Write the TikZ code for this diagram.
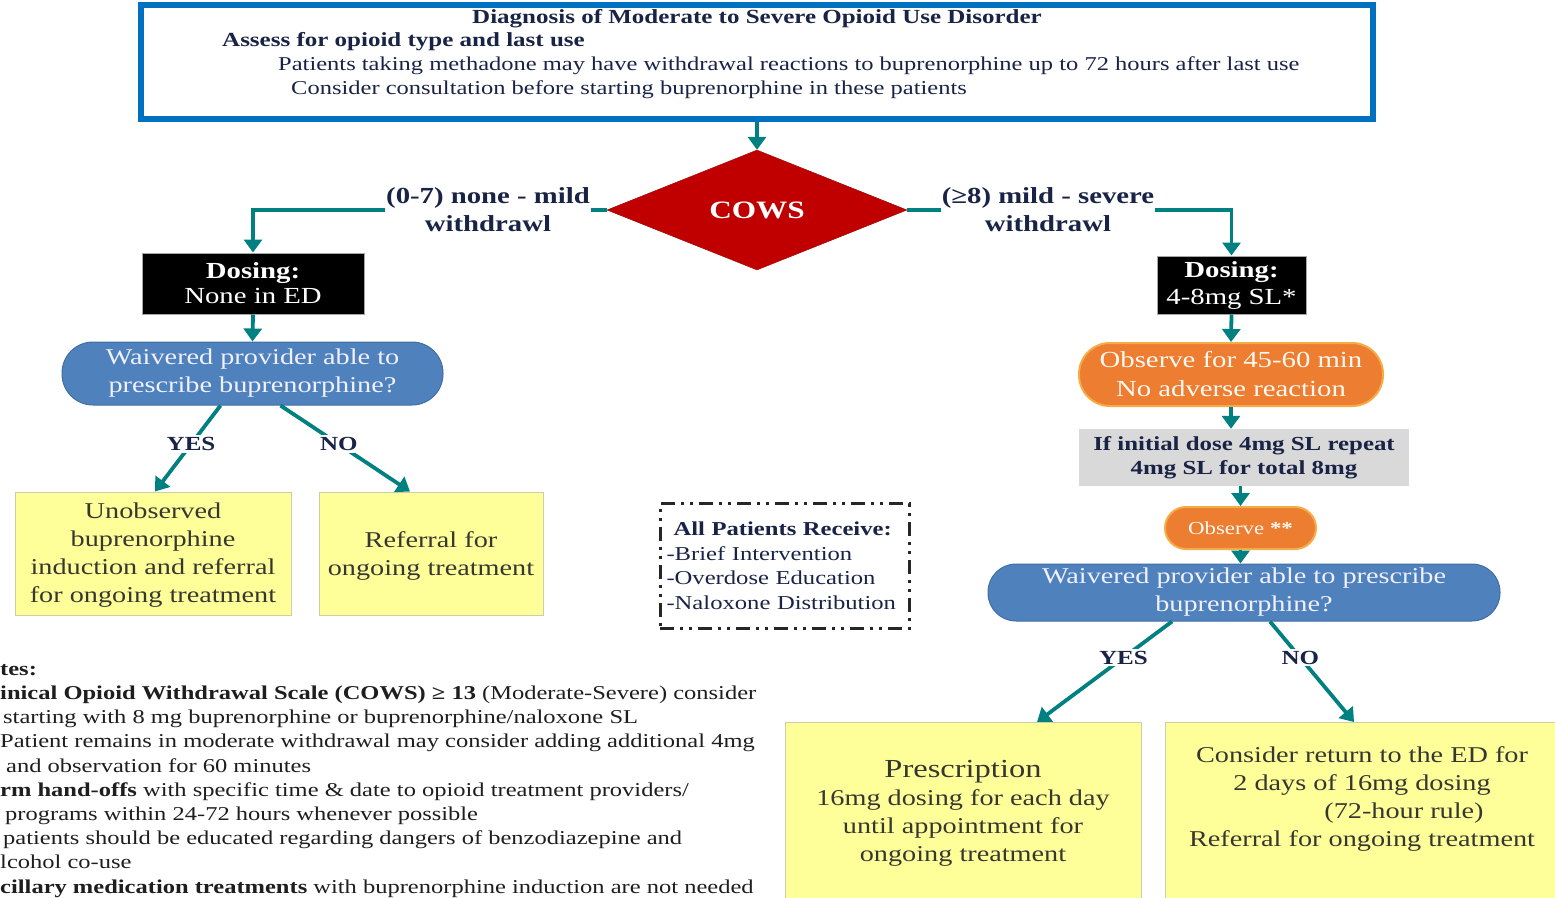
\documentclass[tikz,border=0pt]{standalone}
\usepackage{fontspec}
\setmainfont{Liberation Serif}[FakeStretch=1.25]
\usetikzlibrary{shapes.geometric,arrows.meta}
\definecolor{arrteal}{RGB}{0,128,128}
\definecolor{topblue}{RGB}{0,112,192}
\definecolor{nodeblue}{RGB}{79,129,189}
\definecolor{nodeblueb}{RGB}{65,110,165}
\definecolor{orfill}{RGB}{237,125,49}
\definecolor{ordraw}{RGB}{246,172,70}
\definecolor{yelfill}{RGB}{255,255,153}
\definecolor{yeldraw}{RGB}{205,205,170}
\definecolor{grayfill}{RGB}{217,217,217}
\definecolor{cowsred}{RGB}{192,0,0}
\definecolor{navy}{RGB}{25,35,70}
\definecolor{boxtext}{RGB}{55,55,50}
\definecolor{notetext}{RGB}{30,30,30}
\newcommand{\fz}[2]{\fontsize{#1}{#2}\selectfont}
\begin{document}
\begin{tikzpicture}[x=1pt,y=-1pt,
  arr/.style={draw=arrteal, line width=3.8pt, -{Triangle[width=18pt,length=13pt]}},
  dosebox/.style={fill=black, draw=gray!70, line width=1pt, text=white, align=center, inner sep=0pt, font=\fz{23}{25}},
  bluepill/.style={fill=nodeblue, draw=nodeblueb, line width=1pt, text=white!94!blue, align=center, inner sep=0pt, font=\fz{22.6}{28}},
  orpill/.style={fill=orfill, draw=ordraw, line width=2pt, text=white!95!orange, align=center, inner sep=0pt, font=\fz{23}{29}},
  yelbox/.style={fill=yelfill, draw=yeldraw, line width=1pt, inner sep=0pt},
  yeltext/.style={text=boxtext, align=center, inner sep=0pt, font=\fz{22.6}{28}},
  lbl/.style={fill=white, text=navy, font=\bfseries\fz{23}{28}, align=center, inner sep=1pt},
  yn/.style={fill=white, text=navy, font=\bfseries\fz{20}{22}, inner sep=2pt},
  toptext/.style={text=navy, inner sep=0pt, font=\fz{19.6}{24}},
]
\useasboundingbox (0,0) rectangle (1555,897);
\clip (0,0) rectangle (1555,897);

% top box
\node[draw=topblue, line width=6pt, minimum width=1232pt, minimum height=114pt, inner sep=0pt] (top) at (757,62) {};
\node[toptext, font=\bfseries\fz{20}{24}] (t1) at (757,19) {Diagnosis of Moderate to Severe Opioid Use Disorder};
\node[toptext, font=\bfseries\fz{20}{24}, anchor=west] (t2) at (222,42) {Assess for opioid type and last use};
\node[toptext, anchor=west] (t3) at (278,66) {Patients taking methadone may have withdrawal reactions to buprenorphine up to 72 hours after last use};
\node[toptext, anchor=west] (t4) at (291,90) {Consider consultation before starting buprenorphine in these patients};

% COWS diamond
\node[diamond, aspect=2.5, fill=cowsred, draw=cowsred!80!black, minimum width=300pt, minimum height=120pt, inner sep=0pt, text=white, font=\bfseries\fz{25}{28}] (cows) at (757,210) {COWS};
\draw[arr] (top.south) -- (cows.north);

% dosing boxes
\node[dosebox, minimum width=222pt, minimum height=61pt] (dose1) at (253,283.5) {\textbf{Dosing:}\\None in ED};
\node[dosebox, minimum width=149pt, minimum height=58pt, font=\fz{23}{27}] (dose2) at (1231.5,285) {\textbf{Dosing:}\\4-8mg SL*};

\draw[arr] (cows.west) -| (dose1.north);
\node[lbl] (l1) at (488,210) {(0-7) none - mild\\withdrawl};
\draw[arr] (cows.east) -| (dose2.north);
\node[lbl] (l2) at (1048,210) {(≥8) mild - severe\\withdrawl};

% left branch
\node[bluepill, rounded corners=31pt, minimum width=381pt, minimum height=63pt] (blue1) at (252.5,373.5) {Waivered provider able to\\prescribe buprenorphine?};
\draw[arr] (dose1.south) -- (blue1.north);

\node[yelbox, minimum width=276pt, minimum height=123pt] (ybox1) at (153,553.5) {};
\node[yeltext] (ytxt1) at (153,555.5) {Unobserved\\buprenorphine\\induction and referral\\for ongoing treatment};
\node[yelbox, minimum width=224pt, minimum height=123pt] (ybox2) at (431,553.5) {};
\node[yeltext] (ytxt2) at (431,555.5) {Referral for\\ongoing treatment};

\draw[arr] ([xshift=-32pt]blue1.south) -- node[yn, pos=0.45] {YES} ([xshift=2pt]ybox1.north);
\draw[arr] ([xshift=28pt]blue1.south) -- node[yn, pos=0.45] {NO} ([xshift=-21pt]ybox2.north);

% right branch
\node[orpill, rounded corners=31pt, minimum width=304pt, minimum height=63pt] (obs1) at (1231,374.5) {Observe for 45-60 min\\No adverse reaction};
\draw[arr] (dose2.south) -- (obs1.north);
\node[fill=grayfill, text=navy, align=center, inner sep=0pt, minimum width=330pt, minimum height=57pt, font=\bfseries\fz{19.9}{24}] (gray) at (1244,457.5) {If initial dose 4mg SL repeat\\4mg SL for total 8mg};
\draw[arr] (obs1.south) -- (obs1.south |- gray.north);
\node[orpill, rounded corners=21pt, minimum width=151pt, minimum height=42pt, font=\fz{18.3}{22}] (obs2) at (1240.5,528) {Observe \textbf{**}};
\draw[arr] (obs2.north |- gray.south) -- (obs2.north);
\node[bluepill, rounded corners=28pt, minimum width=512pt, minimum height=57pt] (blue2) at (1244,592.5) {Waivered provider able to prescribe\\buprenorphine?};
\draw[arr] (obs2.south) -- (obs2.south |- blue2.north);

\node[yelbox, minimum width=356pt, minimum height=200pt, anchor=north] (ybox3) at (963,722) {};
\node[yeltext] (ytxt3) at (963,813) {{\fz{26}{30}Prescription}\\16mg dosing for each day\\until appointment for\\ongoing treatment};
\node[yelbox, minimum width=400pt, minimum height=200pt, anchor=north west] (ybox4) at (1165,722) {};
\node[yeltext] (ytxt4) at (1362,798.5) {Consider return to the ED for\\2 days of 16mg dosing\\\hspace*{84pt}(72-hour rule)\\Referral for ongoing treatment};

\draw[arr] ([xshift=-72pt]blue2.south) -- node[yn, pos=0.36] {YES} ([xshift=74pt]ybox3.north);
\draw[arr] ([xshift=26pt]blue2.south) -- node[yn, pos=0.36] {NO} ([xshift=-8pt]ybox4.north -| ytxt4.north);

% all patients box
\node[draw=black!85, line width=3pt, dash pattern=on 14pt off 6pt on 3pt off 6pt on 3pt off 6pt, minimum width=249pt, minimum height=125pt, text width=236pt, inner xsep=6pt, align=left, text=navy, font=\fz{19.7}{24.5}] (allpat) at (784.5,566) {\hspace*{7pt}\textbf{All Patients Receive:}\\-Brief Intervention\\-Overdose Education\\-Naloxone Distribution};

% notes
\node[anchor=north west, align=left, inner sep=0pt, text=notetext, font=\fz{19.6}{24.2}] (notes) at (0,664) {\textbf{tes:}\\
\textbf{inical Opioid Withdrawal Scale (COWS) ≥ 13} (Moderate-Severe) consider\\
\hspace*{3pt}starting with 8 mg buprenorphine or buprenorphine/naloxone SL\\
Patient remains in moderate withdrawal may consider adding additional 4mg\\
\hspace*{6pt}and observation for 60 minutes\\
\textbf{rm hand-offs} with specific time \& date to opioid treatment providers/\\
\hspace*{5pt}programs within 24-72 hours whenever possible\\
\hspace*{3pt}patients should be educated regarding dangers of benzodiazepine and\\
lcohol co-use\\
\textbf{cillary medication treatments} with buprenorphine induction are not needed};
\end{tikzpicture}
\end{document}
